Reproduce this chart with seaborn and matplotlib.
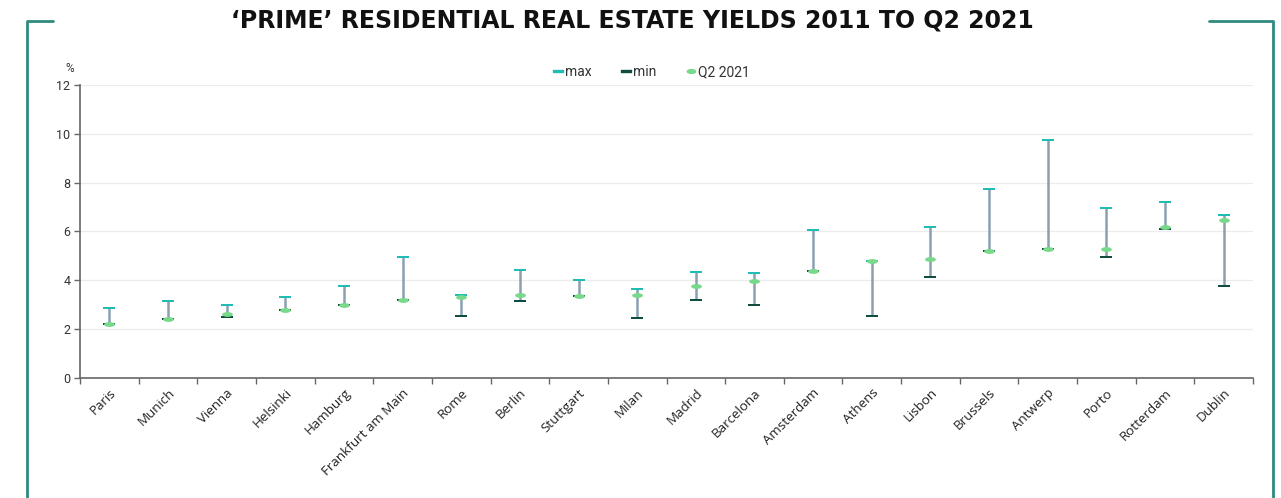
import matplotlib
matplotlib.use("Agg")
import matplotlib.pyplot as plt
import seaborn as sns
import pandas as pd
import numpy as np
from matplotlib.lines import Line2D
from matplotlib.path import Path

cities = ["Paris", "Munich", "Vienna", "Helsinki", "Hamburg", "Frankfurt am Main",
          "Rome", "Berlin", "Stuttgart", "Milan", "Madrid", "Barcelona", "Amsterdam",
          "Athens", "Lisbon", "Brussels", "Antwerp", "Porto", "Rotterdam", "Dublin"]
max_vals = [2.85, 3.15, 2.98, 3.30, 3.77, 4.96, 3.39, 4.44, 4.02, 3.65, 4.34, 4.29,
            6.08, 4.80, 6.20, 7.73, 9.74, 6.95, 7.21, 6.69]
min_vals = [2.20, 2.40, 2.48, 2.80, 3.00, 3.20, 2.55, 3.14, 3.34, 2.44, 3.21, 2.98,
            4.40, 2.52, 4.13, 5.20, 5.30, 4.95, 6.10, 3.77]
q2_vals = [2.20, 2.40, 2.62, 2.80, 3.00, 3.20, 3.30, 3.39, 3.37, 3.39, 3.78, 3.99,
           4.40, 4.80, 4.89, 5.20, 5.30, 5.29, 6.20, 6.49]
series_names = ["max", "min", "Q2 2021"]
y_ticks = [0, 2, 4, 6, 8, 10, 12]

c_max = "#20bdb5"
c_min = "#0f4d40"
c_q2 = "#78d98a"
c_line = "#8aa0b0"
c_frame = "#2f8a80"

sns.set_theme(style="white")
plt.rcParams["font.family"] = ["Roboto", "DejaVu Sans"]

fig = plt.figure(figsize=(12.81, 4.98), dpi=100)
ax = fig.add_axes([80 / 1281, 1 - 378 / 498, (1253 - 80) / 1281, (378 - 85) / 498])

df = pd.DataFrame({
    "city": cities * 3,
    "value": max_vals + min_vals + q2_vals,
    "series": [series_names[0]] * len(cities) + [series_names[1]] * len(cities)
              + [series_names[2]] * len(cities),
})

x = np.arange(len(cities))
ax.vlines(x, min_vals, max_vals, color=c_line, lw=1.8, zorder=2)

dash = Path([(-1, -0.2), (1, -0.2), (1, 0.2), (-1, 0.2), (-1, -0.2)],
            [Path.MOVETO, Path.LINETO, Path.LINETO, Path.LINETO, Path.CLOSEPOLY])
t = np.linspace(0, 2 * np.pi, 40)
ell = Path(np.column_stack([np.cos(t), 0.45 * np.sin(t)]))

palette = {"max": c_max, "min": c_min, "Q2 2021": c_q2}
for name, mk, sz, z in [("max", dash, 85, 3), ("min", dash, 85, 3), ("Q2 2021", ell, 60, 4)]:
    sub = df[df["series"] == name]
    sns.scatterplot(data=sub, x="city", y="value", color=palette[name], marker=mk,
                    s=sz, linewidth=0, ax=ax, zorder=z, legend=False)

ax.set_xlim(-0.5, len(cities) - 0.5)
ax.set_ylim(0, 12)
ax.set_yticks(y_ticks)
ax.set_yticklabels([str(v) for v in y_ticks], fontsize=9, color="#333333")
ax.set_xticks(x)
ax.set_xticklabels(cities, rotation=45, ha="right", rotation_mode="anchor",
                   fontsize=9.6, family=["Open Sans", "DejaVu Sans"], color="#222222")
ax.set_xticks(np.arange(-0.5, len(cities), 1), minor=True)
ax.tick_params(axis="x", which="major", length=0, pad=6)
ax.tick_params(axis="x", which="minor", length=4, width=1, color="#666666", direction="out", bottom=True)
ax.tick_params(axis="y", length=4, width=1, color="#666666", direction="out", left=True, pad=3)
ax.set_xlabel("")
ax.set_ylabel("")
ax.grid(axis="y", color="#ececec", lw=0.9)
ax.set_axisbelow(True)
for s in ["top", "right"]:
    ax.spines[s].set_visible(False)
for s in ["left", "bottom"]:
    ax.spines[s].set_color("#666666")
    ax.spines[s].set_linewidth(1.2)

fig.text(70 / 1281, 1 - 68 / 498, "%", fontsize=8.5, ha="center", va="center", color="#333333")

handles = [Line2D([], [], ls="none", marker=dash, color=c_max, markersize=7),
           Line2D([], [], ls="none", marker=dash, color=c_min, markersize=7),
           Line2D([], [], ls="none", marker=ell, color=c_q2, markersize=6)]
fig.legend(handles, series_names, loc="center", bbox_to_anchor=(652 / 1281, 1 - 72 / 498),
           ncol=3, frameon=False, fontsize=10, handlelength=0.6, handletextpad=0.2,
           columnspacing=2.2, labelcolor="#333333")

fig.text(632 / 1281, 1 - 20 / 498, "\u2018PRIME\u2019 RESIDENTIAL REAL ESTATE YIELDS 2011 TO Q2 2021",
         fontsize=17, fontweight="bold", ha="center", va="center",
         family=["DejaVu Sans"], color="#111111")

fig.add_artist(Line2D([27 / 1281, 27 / 1281, 53 / 1281], [0, 1 - 21 / 498, 1 - 21 / 498],
                      color=c_frame, lw=2))
fig.add_artist(Line2D([1209 / 1281, 1273 / 1281, 1273 / 1281], [1 - 21 / 498, 1 - 21 / 498, 0],
                      color=c_frame, lw=2))

fig.savefig("out.png", dpi=100)
